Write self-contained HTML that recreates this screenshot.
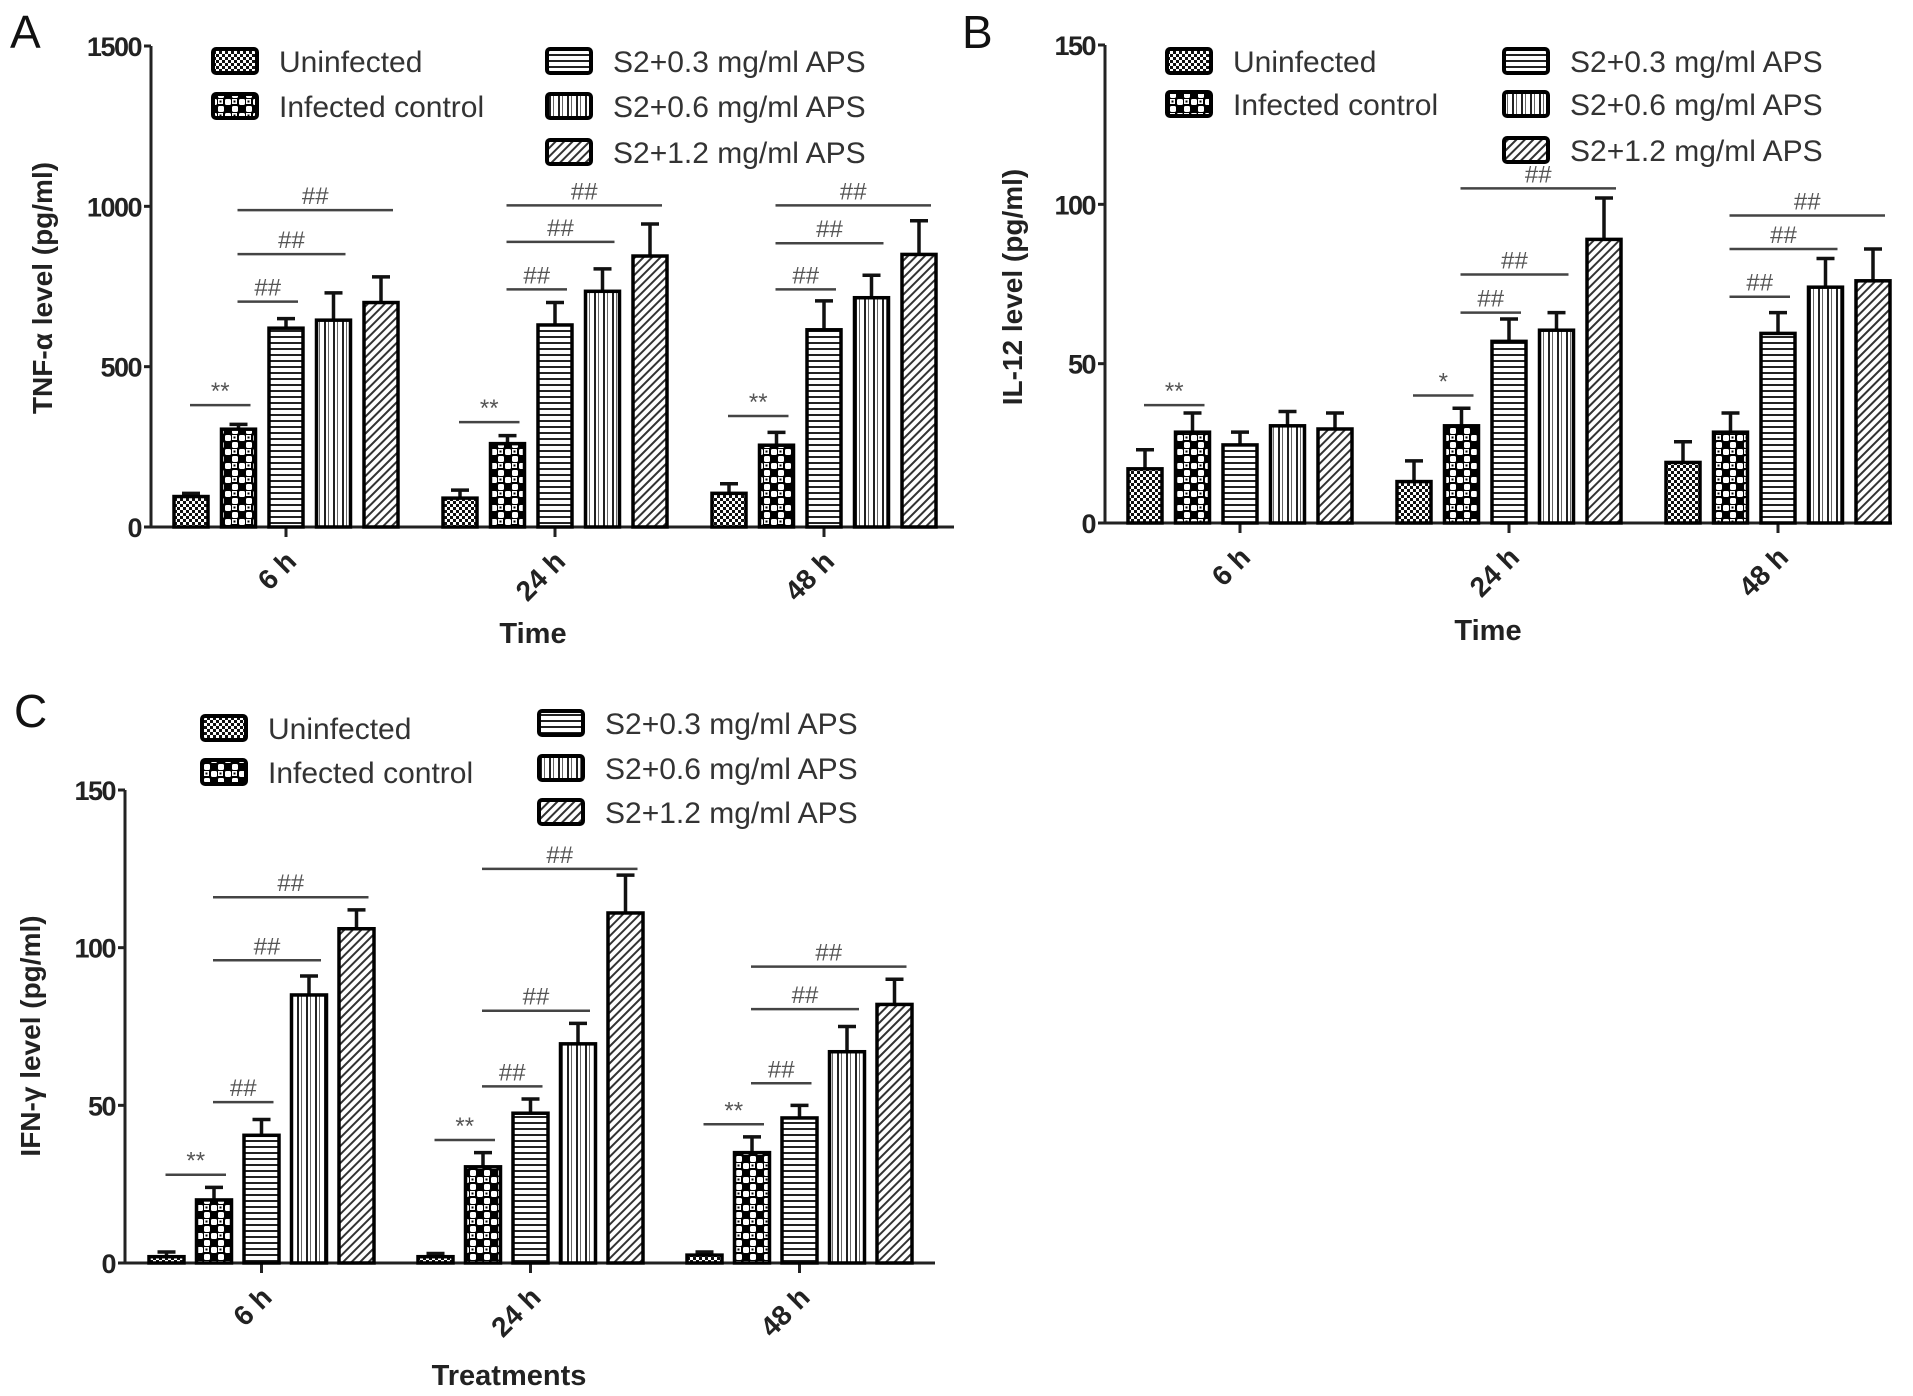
<!DOCTYPE html>
<html><head><meta charset="utf-8">
<style>
html,body{margin:0;padding:0;background:#fff;}
svg{display:block;font-family:"Liberation Sans",Arial,sans-serif;}
</style></head>
<body>
<svg id="fig" width="1913" height="1396" viewBox="0 0 1913 1396" xmlns="http://www.w3.org/2000/svg">
<defs>
<pattern id="p-uninf" width="6" height="6" patternUnits="userSpaceOnUse"><rect width="6" height="6" fill="#fff"/><rect width="3" height="3" fill="#111"/><rect x="3" y="3" width="3" height="3" fill="#111"/></pattern>
<pattern id="p-inf" width="14" height="14" patternUnits="userSpaceOnUse"><rect width="14" height="14" fill="#000"/><rect x="1" y="1" width="6" height="6" rx="1.5" fill="#fff"/><rect x="8" y="8" width="6" height="6" rx="1.5" fill="#fff"/><rect x="8" y="1" width="5" height="5" fill="#fff"/><rect x="9.5" y="2.5" width="2" height="2" fill="#000"/></pattern>
<pattern id="p-h" width="6" height="6" patternUnits="userSpaceOnUse"><rect width="6" height="6" fill="#fff"/><rect y="0" width="6" height="2" fill="#222"/></pattern>
<pattern id="p-v" width="9" height="9" patternUnits="userSpaceOnUse"><rect width="9" height="9" fill="#fff"/><rect x="0" width="2" height="9" fill="#222"/><rect x="4" width="1" height="9" fill="#666"/></pattern>
<pattern id="p-d" width="6" height="6" patternUnits="userSpaceOnUse" patternTransform="rotate(45)"><rect width="6" height="6" fill="#fff"/><rect width="2" height="6" fill="#333"/></pattern>
</defs>
</svg>
<script>
// ---- shared ----
const groups = ["6 h", "24 h", "48 h"];
const seriesNames = ["Uninfected", "Infected control", "S2+0.3 mg/ml  APS", "S2+0.6 mg/ml  APS", "S2+1.2 mg/ml  APS"];
// ---- Panel A: TNF-α ----
const aTicks = [0, 500, 1000, 1500];
const aMean = [[95, 305, 620, 645, 700], [90, 260, 630, 735, 845], [105, 255, 615, 715, 850]];
const aErr  = [[10, 15, 30, 85, 80], [25, 25, 70, 70, 100], [30, 40, 90, 70, 105]];
// ---- Panel B: IL-12 ----
const bTicks = [0, 50, 100, 150];
const bMean = [[17, 28.5, 24.5, 30.5, 29.5], [13, 30.5, 57, 60.5, 89], [19, 28.5, 59.5, 74, 76]];
const bErr  = [[6, 6, 4, 4.5, 5], [6.5, 5.5, 7, 5.5, 13], [6.5, 6, 6.5, 9, 10]];
// ---- Panel C: IFN-γ ----
const cTicks = [0, 50, 100, 150];
const cMean = [[2, 20, 40.5, 85, 106], [2, 30.5, 47.5, 69.5, 111], [2.5, 35, 46, 67, 82]];
const cErr  = [[1.5, 4, 5, 6, 6], [1, 4.5, 4.5, 6.5, 12], [1, 5, 4, 8, 8]];
// annotations: [group, fromBar, toBar, value-level, label]
const aAnn = [[0,0,1,380,"**"],[0,1,2,703,"##"],[0,1,3,851,"##"],[0,1,4,988,"##"],
              [1,0,1,327,"**"],[1,1,2,741,"##"],[1,1,3,889,"##"],[1,1,4,1003,"##"],
              [2,0,1,346,"**"],[2,1,2,741,"##"],[2,1,3,885,"##"],[2,1,4,1003,"##"]];
const bAnn = [[0,0,1,37,"**"],[1,0,1,40,"*"],[1,1,2,66,"##"],[1,1,3,78,"##"],[1,1,4,105,"##"],
              [2,1,2,71,"##"],[2,1,3,86,"##"],[2,1,4,96.5,"##"]];
const cAnn = [[0,0,1,28,"**"],[0,1,2,51,"##"],[0,1,3,96,"##"],[0,1,4,116,"##"],
              [1,0,1,39,"**"],[1,1,2,56,"##"],[1,1,3,80,"##"],[1,1,4,125,"##"],
              [2,0,1,44,"**"],[2,1,2,57,"##"],[2,1,3,80.5,"##"],[2,1,4,94,"##"]];

const fills = ["url(#p-uninf)","url(#p-inf)","url(#p-h)","url(#p-v)","url(#p-d)"];
const NS = "http://www.w3.org/2000/svg";
const svg = document.getElementById("fig");
function mk(tag, attrs, parent, text){
  const e = document.createElementNS(NS, tag);
  for (const k in attrs) e.setAttribute(k, attrs[k]);
  if (text !== undefined) e.textContent = text;
  (parent || svg).appendChild(e);
  return e;
}

function panel(cfg){
  const g = mk("g", {});
  
  
  const yMax = cfg.ticks[cfg.ticks.length-1];
  const y = v => cfg.y0 - (v / yMax) * (cfg.y0 - cfg.yTop);
  const barX = (gi, si) => cfg.x0 + gi * cfg.gPitch + si * cfg.bPitch;
  const L = mk("text", {x: cfg.letterX, y: cfg.letterY, "font-size": 46, fill: "#111"}, g, cfg.letter);
  
  
  const ya = mk("line", {x1: cfg.axX, y1: cfg.yTop, x2: cfg.axX, y2: cfg.y0, stroke: "#222", "stroke-width": 3}, g);
  
  
  cfg.ticks.forEach(t => {
    mk("line", {x1: cfg.axX - 7, y1: y(t), x2: cfg.axX, y2: y(t), stroke: "#222", "stroke-width": 3}, g);
    const tl = mk("text", {x: cfg.axX - 10, y: y(t) + 10, "font-size": 27, "font-weight": "bold", "text-anchor": "end", fill: "#222", "letter-spacing": "-1.5"}, g, String(t));
    
    
  });
  const yl = mk("text", {x: 0, y: 0, "font-size": 28, "font-weight": "bold", "text-anchor": "middle", fill: "#222", transform: `translate(${cfg.ylabX},${cfg.ylabY}) rotate(-90)`}, g, cfg.ylab);
  
  
  const xa = mk("line", {x1: cfg.axX, y1: cfg.y0, x2: cfg.axEnd, y2: cfg.y0, stroke: "#222", "stroke-width": 3}, g);
  
  
  groups.forEach((lab, gi) => {
    const cx = barX(gi, 2) + cfg.bw/2;
    mk("line", {x1: cx, y1: cfg.y0, x2: cx, y2: cfg.y0 + 10, stroke: "#222", "stroke-width": 3}, g);
    const t = mk("text", {x: 0, y: 0, "font-size": 28, "font-weight": "bold", "text-anchor": "end", fill: "#222", transform: `translate(${cx+12},${cfg.y0+36}) rotate(-45)`}, g, lab);
    
    
  });
  const xt = mk("text", {x: cfg.xtX, y: cfg.xtY, "font-size": 29, "font-weight": "bold", "text-anchor": "middle", fill: "#222"}, g, cfg.xlab);
  
  
  cfg.mean.forEach((row, gi) => row.forEach((v, si) => {
    const x = barX(gi, si), top = y(v + cfg.err[gi][si]);
    const cx = x + cfg.bw/2;
    const eb = mk("path", {d: `M${cx},${y(v)} V${top} M${cx-9},${top} H${cx+9}`, stroke: "#111", "stroke-width": 3.5, fill: "none"}, g);
    
    
    const r = mk("rect", {x: x, y: y(v), width: cfg.bw, height: cfg.y0 - y(v), fill: fills[si], stroke: "#000", "stroke-width": 3.5}, g);
    
    
  }));
  cfg.ann.forEach(a => {
    const [gi, s1, s2, lv, lab] = a;
    const x1 = barX(gi, s1) + cfg.bw/2 - 1, x2 = barX(gi, s2) + cfg.bw/2 + 12;
    const yy = y(lv);
    const ln = mk("line", {x1: x1, y1: yy, x2: x2, y2: yy, stroke: "#444", "stroke-width": 2.5}, g);
    
    
    const tx = mk("text", {x: (x1+x2)/2, y: yy - 6, "font-size": 24, "text-anchor": "middle", fill: "#555"}, g, lab);
    
    
  });
  const lg = mk("g", {}, g);
  
  
  seriesNames.forEach((n, si) => {
    const left = si < 2;
    const bx = left ? cfg.legL : cfg.legR;
    const ry = left ? cfg.legLY[si] : cfg.legRY[si-2];
    const e = mk("g", {}, lg);
    
    
    mk("rect", {x: bx, y: ry - 12, width: 44, height: 24, rx: 3, fill: fills[si], stroke: "#000", "stroke-width": 4}, e);
    mk("text", {x: bx + 66, y: ry + 11, "font-size": 30, fill: "#333"}, e, n);
  });
}

panel({name: "panel-a-tnf", letter: "A", letterX: 10, letterY: 48, ticks: aTicks, mean: aMean, err: aErr, ann: aAnn,
  axX: 151, axEnd: 954, y0: 527, yTop: 46, x0: 174, bw: 34, bPitch: 47.5, gPitch: 269,
  ylab: "TNF-α level (pg/ml)", ylabX: 52, ylabY: 288, xlab: "Time", xtX: 533, xtY: 643,
  legL: 213, legR: 547, legLY: [61, 106], legRY: [61, 106, 152]});
panel({name: "panel-b-il12", letter: "B", letterX: 962, letterY: 48, ticks: bTicks, mean: bMean, err: bErr, ann: bAnn,
  axX: 1105, axEnd: 1892, y0: 523, yTop: 45, x0: 1128, bw: 34, bPitch: 47.5, gPitch: 269,
  ylab: "IL-12 level (pg/ml)", ylabX: 1022, ylabY: 287, xlab: "Time", xtX: 1488, xtY: 640,
  legL: 1167, legR: 1504, legLY: [61, 104], legRY: [61, 104, 150]});
panel({name: "panel-c-ifn", letter: "C", letterX: 14, letterY: 727, ticks: cTicks, mean: cMean, err: cErr, ann: cAnn,
  axX: 125, axEnd: 935, y0: 1263, yTop: 790, x0: 149, bw: 35, bPitch: 47.5, gPitch: 269,
  ylab: "IFN-γ level (pg/ml)", ylabX: 40, ylabY: 1036, xlab: "Treatments", xtX: 509, xtY: 1385,
  legL: 202, legR: 539, legLY: [728, 772], legRY: [723, 768, 812]});
</script>
</body></html>
